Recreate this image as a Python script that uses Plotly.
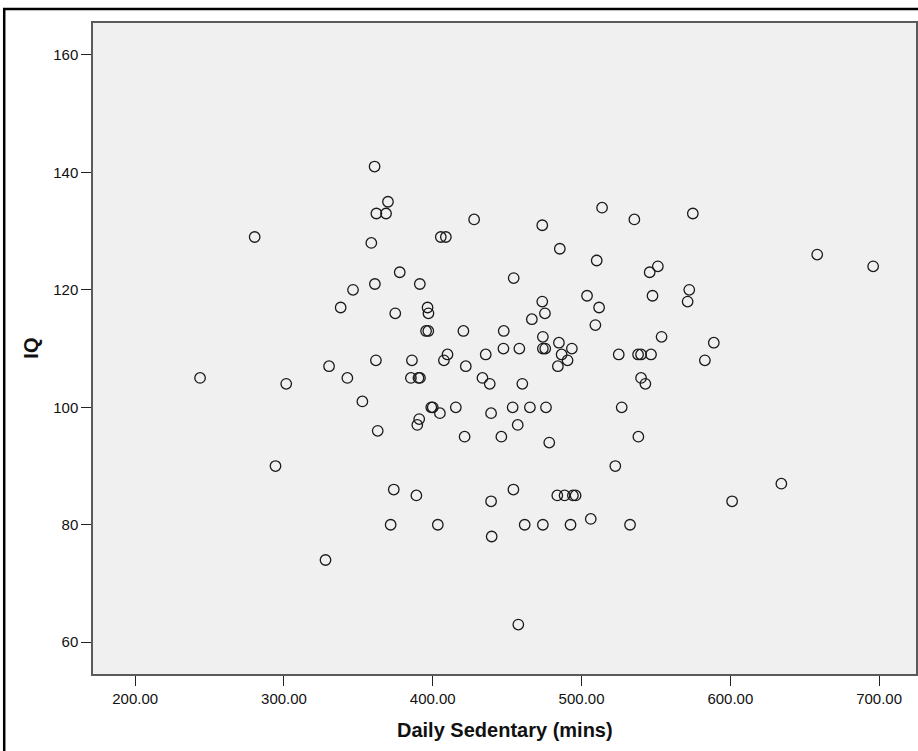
import plotly.graph_objects as go

# Daily sedentary time (minutes) and IQ score for each participant
sedentary_mins = [
    360.9, 369.9, 362.1, 368.6, 280.3, 358.7, 377.8, 361.1, 346.4, 338.1,
    374.8, 361.8, 330.3, 243.6, 342.6, 301.5, 352.7,
    513.8, 427.8, 535.5, 574.8, 473.6, 405.4, 408.8, 485.4, 510.2,
    551.3, 545.8, 454.4, 391.3, 503.7, 547.7, 572.4, 571.3, 473.6,
    511.8, 396.5, 397.1, 475.4, 466.6, 509.3, 395.5, 397.0, 420.6,
    447.7, 474.0, 553.8, 447.5, 458.2, 474.0, 475.6, 484.8, 493.5,
    486.6, 490.6, 484.1, 409.9, 407.5, 386.0, 435.6, 422.2, 525.0,
    538.0, 540.0, 546.7, 582.9, 540.0, 542.9, 385.3, 390.4, 391.4,
    433.4, 438.3, 460.2, 588.9,
    658.4, 696.0,
    399.0, 400.0, 404.8, 415.5, 439.2, 453.7, 465.3, 476.1, 527.0,
    390.9, 389.6, 457.1, 421.4, 446.1, 538.2, 478.3, 522.7, 373.8,
    454.2, 389.0, 439.2, 483.7, 488.6, 494.2, 496.0, 506.2, 403.4,
    461.8, 474.0, 492.6, 532.6, 439.6, 457.5,
    363.0, 294.3, 371.7, 327.9,
    634.3, 601.2,
]
iq = [
    141, 135, 133, 133, 129, 128, 123, 121, 120, 117,
    116, 108, 107, 105, 105, 104, 101,
    134, 132, 132, 133, 131, 129, 129, 127, 125,
    124, 123, 122, 121, 119, 119, 120, 118, 118,
    117, 117, 116, 116, 115, 114, 113, 113, 113,
    113, 112, 112, 110, 110, 110, 110, 111, 110,
    109, 108, 107, 109, 108, 108, 109, 107, 109,
    109, 109, 109, 108, 105, 104, 105, 105, 105,
    105, 104, 104, 111,
    126, 124,
    100, 100, 99, 100, 99, 100, 100, 100, 100,
    98, 97, 97, 95, 95, 95, 94, 90, 86,
    86, 85, 84, 85, 85, 85, 85, 81, 80,
    80, 80, 80, 80, 78, 63,
    96, 90, 80, 74,
    87, 84,
]

x_ticks = [200, 300, 400, 500, 600, 700]
y_ticks = [60, 80, 100, 120, 140, 160]
x_title = "Daily Sedentary (mins)"
y_title = "IQ"

W, H = 918, 751
L, R, T, B = 93, 0, 23, 76.5
plot_w = W - L - R
plot_h = H - T - B


def px_to_paper_x(px):
    return (px - L) / plot_w


def px_to_paper_y(py):
    return (H - B - py) / plot_h


FONT = "Liberation Sans, Arial, sans-serif"

fig = go.Figure(
    go.Scatter(
        x=sedentary_mins,
        y=iq,
        mode="markers",
        marker=dict(
            symbol="circle-open",
            size=10.5,
            color="#1a1a1a",
            line=dict(width=1.3, color="#1a1a1a"),
        ),
        hoverinfo="x+y",
    )
)

axis_common = dict(
    showgrid=False,
    zeroline=False,
    showline=True,
    linecolor="#5a5a5a",
    linewidth=1.5,
    mirror=True,
    ticks="outside",
    ticklen=10,
    tickwidth=1.3,
    tickcolor="#222222",
    tickfont=dict(family=FONT, size=15, color="#111111"),
)

fig.update_xaxes(
    range=[171.64, 724.8],
    tickvals=x_ticks,
    tickformat=".2f",
    **axis_common,
)
fig.update_yaxes(
    range=[54.59, 165.44],
    tickvals=y_ticks,
    **axis_common,
)

fig.update_layout(
    width=W,
    height=H,
    margin=dict(l=L, r=R, t=T, b=B, pad=0),
    paper_bgcolor="white",
    plot_bgcolor="#f0f0f0",
    showlegend=False,
    annotations=[
        dict(
            text=f"<b>{x_title}</b>",
            xref="paper", yref="paper",
            x=0.5, y=px_to_paper_y(731),
            xanchor="center", yanchor="middle",
            showarrow=False,
            font=dict(family=FONT, size=20, color="#111111"),
        ),
        dict(
            text=f"<b>{y_title}</b>",
            xref="paper", yref="paper",
            x=px_to_paper_x(30), y=0.5,
            xanchor="center", yanchor="middle",
            textangle=-90,
            showarrow=False,
            font=dict(family=FONT, size=20, color="#111111"),
        ),
    ],
    shapes=[
        dict(
            type="rect",
            xref="paper", yref="paper",
            x0=px_to_paper_x(4), x1=px_to_paper_x(925),
            y0=px_to_paper_y(770), y1=px_to_paper_y(9),
            line=dict(color="black", width=2.5),
            fillcolor="rgba(0,0,0,0)",
            layer="above",
        )
    ],
)

fig.write_html("out.html")
